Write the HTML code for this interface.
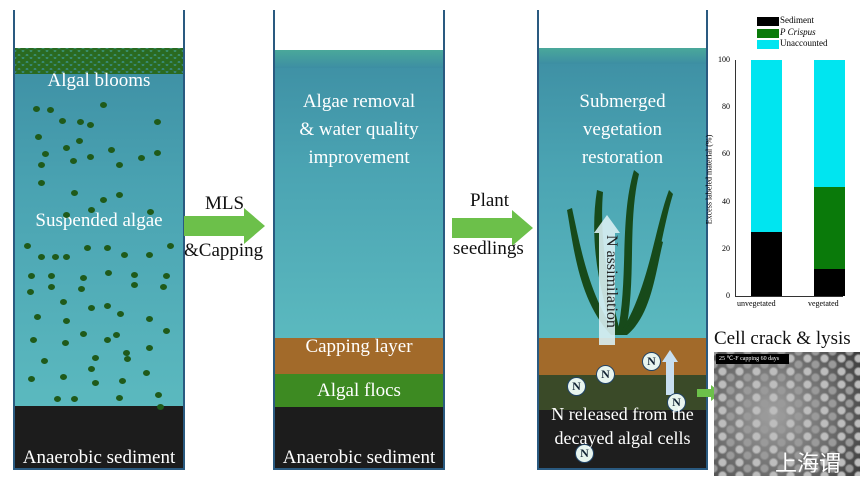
<!DOCTYPE html>
<html><head><meta charset="utf-8"><style>
body{margin:0;width:860px;height:476px;background:#fff;position:relative;overflow:hidden;font-family:"Liberation Serif",serif}
.col{position:absolute;border-left:2px solid #2a5a80;border-right:2px solid #2a5a80;border-bottom:2px solid #2a5a80}
.w{position:absolute;left:0;right:0;background:linear-gradient(#3d8ea3,#4aa3b2 40%,#5bb9bf)}
.l{position:absolute;left:0;right:0}
.t{position:absolute;color:#fff;text-align:center;width:100%;left:0}
.k{position:absolute;color:#111;font-size:19px}
.d{position:absolute;width:7px;height:6px;border-radius:50%;background:#1f5a1a}
.n{position:absolute;width:17px;height:17px;border-radius:50%;background:#e8f5ef;border:1px solid #246;font-size:12px;text-align:center;line-height:17px;color:#123;font-weight:bold}
.y{position:absolute;left:714px;width:16px;text-align:right;font-size:8px}
</style></head><body>

<!-- column 1 -->
<div class="col" style="left:13px;top:10px;width:168px;height:458px;">
 <div class="w" style="top:38px;height:358px"></div>
 <div class="l" style="top:38px;height:26px;background:radial-gradient(circle,#2a6a20 0 2.6px,transparent 3.2px) 0 0/8px 7px,radial-gradient(circle,#2a6a20 0 2.6px,transparent 3.2px) 4px 3px/8px 7px,linear-gradient(#3fa08a,#3d8ea3)"></div>
 <div class="l" style="top:396px;height:62px;background:#1c1c1c"></div>
 <div class="t" style="top:60px;font-size:19px">Algal blooms</div>
 <div class="t" style="top:200px;font-size:19px">Suspended algae</div>
 <div class="t" style="top:437px;font-size:19px">Anaerobic sediment</div>
</div>
<div id="dots"></div>

<!-- arrow 1 -->
<div class="k" style="left:205px;top:193px">MLS</div>
<svg style="position:absolute;left:184px;top:208px" width="82" height="36"><polygon points="0,8 60,8 60,0 81,18 60,36 60,28 0,28" fill="#6cc04a"/></svg>
<div class="k" style="left:184px;top:240px">&amp;Capping</div>

<!-- column 2 -->
<div class="col" style="left:273px;top:10px;width:168px;height:458px;">
 <div class="w" style="top:40px;height:288px"></div>
 <div class="l" style="top:40px;height:18px;background:linear-gradient(#4aa89a,#3d8ea3)"></div>
 <div class="l" style="top:328px;height:36px;background:#a26a2a"></div>
 <div class="l" style="top:364px;height:33px;background:#3d8a22"></div>
 <div class="l" style="top:397px;height:61px;background:#1c1c1c"></div>
 <div class="t" style="top:78px;font-size:19px;line-height:28px">Algae removal<br>&amp; water quality<br>improvement</div>
 <div class="t" style="top:326px;font-size:19px">Capping layer</div>
 <div class="t" style="top:370px;font-size:19px">Algal flocs</div>
 <div class="t" style="top:437px;font-size:19px">Anaerobic sediment</div>
</div>

<!-- arrow 2 -->
<div class="k" style="left:470px;top:190px">Plant</div>
<svg style="position:absolute;left:452px;top:210px" width="82" height="36"><polygon points="0,8 60,8 60,0 81,18 60,36 60,28 0,28" fill="#6cc04a"/></svg>
<div class="k" style="left:453px;top:238px">seedlings</div>

<!-- column 3 -->
<div class="col" style="left:537px;top:10px;width:167px;height:458px;">
 <div class="w" style="top:38px;height:290px"></div>
 <div class="l" style="top:38px;height:16px;background:linear-gradient(#4aa89a,#3d8ea3)"></div>
 <div class="l" style="top:328px;height:37px;background:#a26a2a"></div>
 <div class="l" style="top:365px;height:35px;background:#3a4a28"></div>
 <div class="l" style="top:400px;height:58px;background:#1e1e1e"></div>
 <div class="t" style="top:78px;font-size:19px;line-height:28px">Submerged<br>vegetation<br>restoration</div>
 <svg style="position:absolute;left:20px;top:160px" width="120" height="170">
  <g fill="#174a1a">
   <path d="M55,165 C40,120 30,70 38,20 L44,22 C40,70 50,120 62,165Z"/>
   <path d="M58,165 C70,110 60,50 75,0 L80,4 C68,55 78,110 66,165Z"/>
   <path d="M60,165 C90,120 95,60 110,20 L114,24 C100,70 98,125 66,165Z"/>
   <path d="M52,165 C20,130 15,80 8,40 L13,38 C22,80 30,125 58,165Z"/>
   <path d="M62,165 C85,140 90,100 100,70 L104,72 C96,105 92,145 68,165Z"/>
  </g>
 </svg>
 <svg style="position:absolute;left:55px;top:205px" width="26" height="130"><polygon points="5,130 5,18 0,18 13,0 26,18 21,18 21,130" fill="#d8eef2" opacity="0.9"/><text x="13" y="20" transform="rotate(90 13 20)" font-family="Liberation Serif" font-size="16" fill="#222">N assimilation</text></svg>
 <svg style="position:absolute;left:123px;top:340px" width="16" height="45"><polygon points="4,45 4,12 0,12 8,0 16,12 12,12 12,45" fill="#c8dff0"/></svg>
 <div class="n" style="left:57px;top:355px">N</div>
 <div class="n" style="left:103px;top:342px">N</div>
 <div class="n" style="left:28px;top:367px">N</div>
 <div class="n" style="left:128px;top:383px">N</div>
 <div class="n" style="left:36px;top:434px">N</div>
 <div class="t" style="top:392px;font-size:18px;line-height:24px">N released from the<br>decayed algal cells</div>
</div>
<svg style="position:absolute;left:697px;top:385px" width="24" height="16"><polygon points="0,4 14,4 14,0 24,8 14,16 14,12 0,12" fill="#6cc04a"/></svg>

<!-- chart -->
<div style="position:absolute;left:757px;top:17px;width:22px;height:9px;background:#000"></div>
<div style="position:absolute;left:757px;top:29px;width:22px;height:9px;background:#0a7a0a"></div>
<div style="position:absolute;left:757px;top:40px;width:22px;height:9px;background:#00e5f0"></div>
<div style="position:absolute;left:780px;top:15px;font-size:9px;line-height:11.5px">Sediment<br><i>P Crispus</i><br>Unaccounted</div>
<div style="position:absolute;left:735px;top:60px;width:1px;height:237px;background:#333"></div>
<div style="position:absolute;left:735px;top:296px;width:108px;height:1px;background:#333"></div>
<div class="y" style="top:55px">100</div>
<div class="y" style="top:102px">80</div>
<div class="y" style="top:149px">60</div>
<div class="y" style="top:197px">40</div>
<div class="y" style="top:244px">20</div>
<div class="y" style="top:291px">0</div>
<div style="position:absolute;left:654px;top:175px;font-size:8px;transform:rotate(-90deg);white-space:nowrap;width:110px;text-align:center;transform-origin:50% 50%;">Excess labeled material (%)</div>
<div style="position:absolute;left:751px;top:60px;width:31px;height:172px;background:#00e5f0"></div>
<div style="position:absolute;left:751px;top:232px;width:31px;height:64px;background:#000"></div>
<div style="position:absolute;left:814px;top:60px;width:31px;height:127px;background:#00e5f0"></div>
<div style="position:absolute;left:814px;top:187px;width:31px;height:82px;background:#0a7a0a"></div>
<div style="position:absolute;left:814px;top:269px;width:31px;height:27px;background:#000"></div>
<div style="position:absolute;left:737px;top:299px;font-size:8px">unvegetated</div>
<div style="position:absolute;left:808px;top:299px;font-size:8px">vegetated</div>

<div style="position:absolute;left:714px;top:328px;font-size:19px;color:#111;white-space:nowrap">Cell crack &amp; lysis</div>
<div style="position:absolute;left:714px;top:352px;width:146px;height:124px;background:radial-gradient(circle,#bdbdbd 0 3px,transparent 5px) 0 0/17px 13px,radial-gradient(circle,#9a9a9a 0 3px,transparent 5px) 8px 6px/17px 13px,radial-gradient(circle at 40% 50%,#a0a0a0,#6a6a6a 60%,#3a3a3a)"></div>
<div style="position:absolute;left:716px;top:354px;width:70px;height:10px;background:#000;color:#fff;font-size:6px;line-height:10px;padding-left:3px">25 ℃-F capping 60 days</div>
<div style="position:absolute;left:775px;top:446px;color:#fff;font-size:22px;font-family:'Liberation Sans','Noto Sans CJK SC',sans-serif;white-space:nowrap">上海谓</div>

<script>
var pts=[[33,106],[47,107],[100,102],[59,118],[77,119],[87,122],[154,119],[35,134],[63,145],[76,138],[42,151],[108,147],[154,150],[138,155],[70,158],[87,154],[38,162],[116,162],[38,180],[71,190],[116,192],[100,197],[88,207],[147,209],[63,212],[24,243],[38,254],[52,254],[63,254],[84,245],[104,245],[121,252],[146,252],[167,243],[28,273],[48,273],[80,275],[105,270],[131,272],[163,273],[48,284],[78,286],[131,282],[160,284],[27,289],[60,299],[104,303],[88,305],[117,311],[146,316],[34,314],[63,318],[80,331],[113,332],[163,328],[30,337],[62,340],[104,337],[123,350],[92,355],[146,345],[41,358],[124,356],[88,366],[60,374],[143,370],[28,376],[119,378],[92,380],[54,396],[71,396],[116,395],[155,392],[157,404]];
var h='';pts.forEach(function(p){h+='<div class="d" style="left:'+p[0]+'px;top:'+p[1]+'px"></div>'});
document.getElementById('dots').innerHTML=h;
</script>
</body></html>
